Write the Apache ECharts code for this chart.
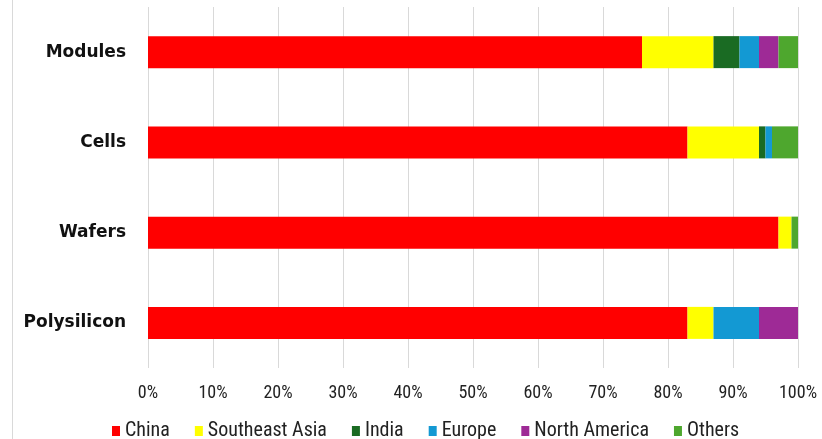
<!DOCTYPE html>
<html>
<head>
<meta charset="utf-8">
<script src="https://cdn.jsdelivr.net/npm/echarts@6/dist/echarts.min.js"></script>
<style>html,body{margin:0;padding:0;background:#fff;}#c{width:822px;height:439px;}</style>
</head>
<body>
<div id="c"></div>
<script>
var categories = ['Polysilicon', 'Wafers', 'Cells', 'Modules'];
var seriesNames = ['China', 'Southeast Asia', 'India', 'Europe', 'North America', 'Others'];
var china = [83, 97, 83, 76];
var seAsia = [4, 2, 11, 11];
var india = [0, 0, 1, 4];
var europe = [7, 0, 1, 3];
var northAmerica = [6, 0, 0, 3];
var others = [0, 1, 4, 3];
var xTicks = ['0%', '10%', '20%', '30%', '40%', '50%', '60%', '70%', '80%', '90%', '100%'];
var colors = ['#ff0000', '#ffff00', '#1a6b23', '#1399d3', '#9e2a96', '#4ea72e'];

var values = [china, seAsia, india, europe, northAmerica, others];
var narrow = "'Liberation Sans Narrow', 'Roboto Condensed', 'Liberation Sans', sans-serif";

var chart = echarts.init(document.getElementById('c'), null, {renderer: 'canvas'});
chart.setOption({
  animation: false,
  color: colors,
  graphic: [{
    type: 'line', shape: {x1: 12.5, y1: 0, x2: 12.5, y2: 439},
    style: {stroke: '#d9d9d9', lineWidth: 1}
  }],
  grid: {left: 148, right: 24, top: 7, bottom: 71},
  legend: {
    top: 416, left: 107,
    itemWidth: 8, itemHeight: 10, itemGap: 25,
    icon: 'rect',
    textStyle: {fontFamily: narrow, fontSize: 20, color: '#222'},
    data: seriesNames
  },
  xAxis: {
    type: 'value', min: 0, max: 100, interval: 10,
    axisLine: {show: false}, axisTick: {show: false},
    splitLine: {lineStyle: {color: '#d9d9d9', width: 1}},
    axisLabel: {
      margin: 16, fontFamily: narrow, fontSize: 18, color: '#222',
      formatter: function (v) { return xTicks[Math.round(v / 10)]; }
    }
  },
  yAxis: {
    type: 'category', data: categories,
    axisLine: {show: false}, axisTick: {show: false},
    axisLabel: {margin: 22, fontFamily: "'DejaVu Sans', sans-serif", fontWeight: 'bold', fontSize: 17, color: '#111'}
  },
  series: seriesNames.map(function (n, i) {
    return {name: n, type: 'bar', stack: 'total', barWidth: 32, data: values[i]};
  })
});
</script>
</body>
</html>
